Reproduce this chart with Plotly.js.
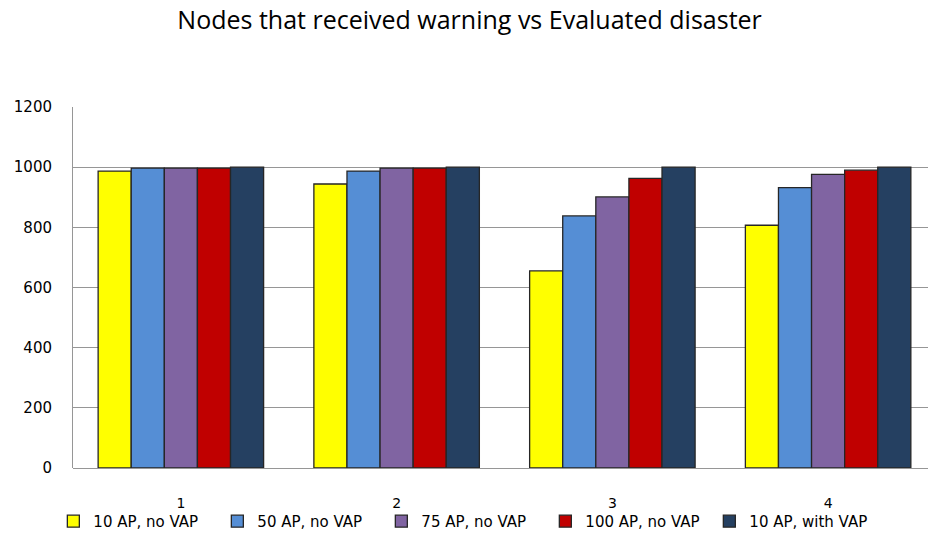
<!DOCTYPE html>
<html>
<head>
<meta charset="utf-8">
<script src="https://cdn.plot.ly/plotly-3.0.1.min.js"></script>
<style>html,body{margin:0;padding:0;background:#fff;}#chart{width:928px;height:533px;}</style>
</head>
<body>
<div id="chart"></div>
<script>
const categories = ["1", "2", "3", "4"];
const seriesNames = ["10 AP, no VAP", "50 AP, no VAP", "75 AP, no VAP", "100 AP, no VAP", "10 AP, with VAP"];
const ap10NoVap = [987, 944, 655, 807];
const ap50NoVap = [997, 987, 838, 932];
const ap75NoVap = [997, 997, 901, 976];
const ap100NoVap = [997, 997, 963, 990];
const ap10WithVap = [1000, 1000, 1000, 1000];
const yTicks = [0, 200, 400, 600, 800, 1000, 1200];

const seriesValues = [ap10NoVap, ap50NoVap, ap75NoVap, ap100NoVap, ap10WithVap];
const colors = ["#FFFF00", "#558ED5", "#8064A2", "#C00000", "#254061"];

const traces = seriesValues.map((vals, i) => ({
  type: "bar",
  x: categories,
  y: vals,
  name: seriesNames[i],
  marker: {color: colors[i], line: {color: "#262626", width: 1.3}},
  hoverinfo: "skip"
}));

const layout = {
  width: 928, height: 533,
  margin: {l: 73, r: 0, t: 107, b: 65, autoexpand: false},
  paper_bgcolor: "#fff", plot_bgcolor: "#fff",
  barmode: "group",
  bargap: 0.233,
  bargroupgap: 0,
  font: {family: "DejaVu Sans, sans-serif", size: 15, color: "#000"},
  title: {
    text: "Nodes that received warning vs Evaluated disaster",
    x: 0.506, xanchor: "center", y: 0.962, yanchor: "middle",
    font: {family: "Open Sans, sans-serif", size: 25, color: "#000"}
  },
  xaxis: {
    type: "category",
    range: [-0.5, 3.463],
    showgrid: false,
    showline: false,
    ticks: "",
    ticklabelstandoff: 25,
    tickfont: {family: "DejaVu Sans, sans-serif", size: 14, color: "#000"},
    zeroline: false
  },
  yaxis: {
    range: [0, 1200],
    tickvals: yTicks,
    ticktext: yTicks.map(String),
    showgrid: true,
    gridcolor: "#969696",
    gridwidth: 1,
    showline: true,
    linecolor: "#969696",
    linewidth: 1,
    zeroline: true,
    zerolinecolor: "#969696",
    zerolinewidth: 1,
    ticks: "",
    ticklabelstandoff: 17,
    tickfont: {family: "DejaVu Sans, sans-serif", size: 15, color: "#000"}
  },
  showlegend: true,
  legend: {
    orientation: "h",
    x: -0.023, xanchor: "left",
    y: -0.148, yanchor: "middle",
    itemwidth: 30,
    entrywidth: 119,
    entrywidthmode: "pixels",
    tracegroupgap: 0,
    font: {family: "DejaVu Sans, sans-serif", size: 15, color: "#000"},
    bgcolor: "rgba(0,0,0,0)"
  }
};

Plotly.newPlot("chart", traces, layout, {displayModeBar: false, staticPlot: true});
</script>
</body>
</html>
